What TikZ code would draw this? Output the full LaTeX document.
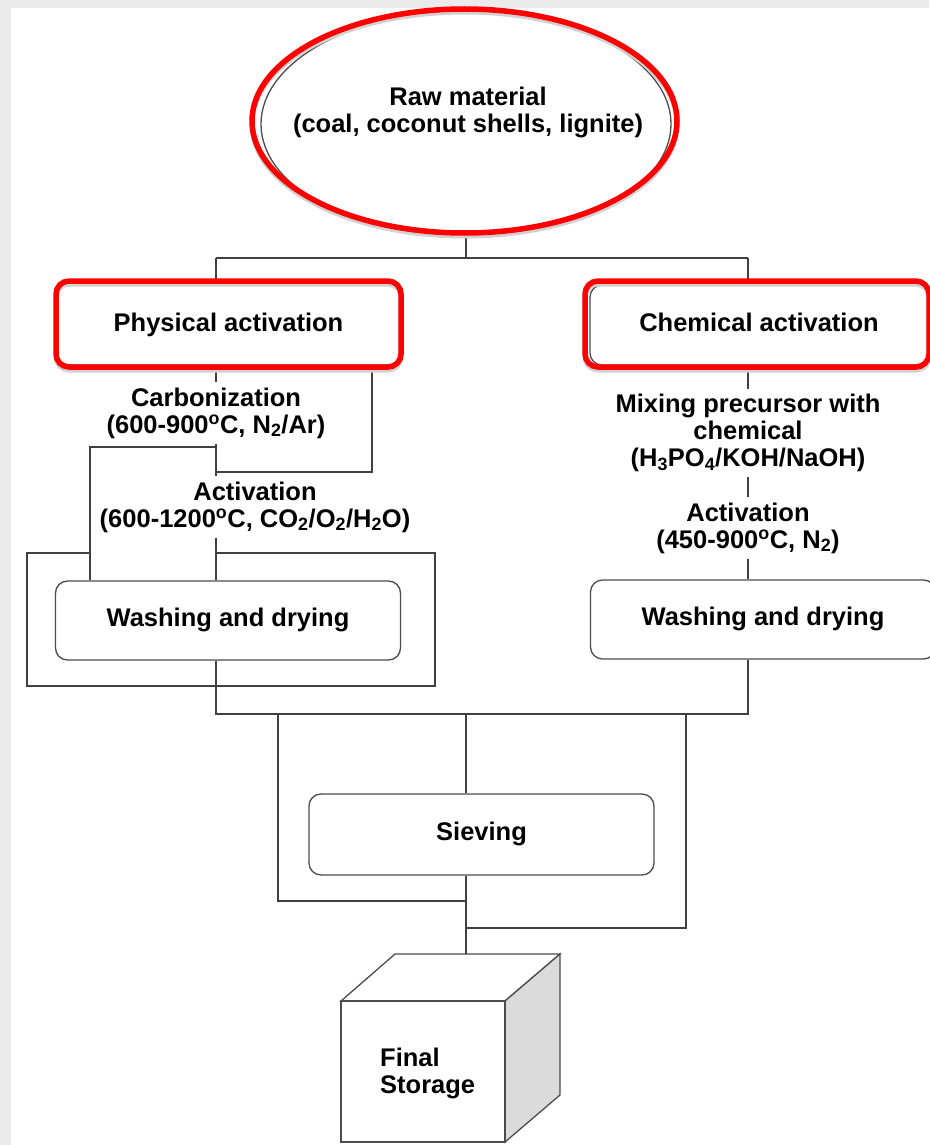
\documentclass[tikz,border=0pt]{standalone}
\usepackage{fontspec}
\setmainfont{Liberation Sans}
\usetikzlibrary{shapes.geometric}

\tikzset{
  wire/.style={draw=black!75, line width=1.2pt},
  plain/.style={draw=black!70, line width=1.3pt, fill=white},
  stepbox/.style={plain, rounded corners=12pt, minimum width=345pt, minimum height=80pt,
    text height=18pt, text depth=5.5pt,
    font=\bfseries\fontsize{25.5}{27}\selectfont},
  lbl/.style={align=center, inner sep=5pt, font=\bfseries\fontsize{25.5}{27}\selectfont},
  redmark/.style={draw=red, line width=5.5pt, rounded corners=13pt,
    preaction={draw=black!18, line width=5pt, transform canvas={yshift=-3pt}}}
}

\begin{document}
\begin{tikzpicture}[x=1pt, y=-1pt]
% Page
\fill[black!8] (0,0) rectangle (929,1145);
\fill[white] (11,8) rectangle (929,1145);
\useasboundingbox (0,0) rectangle (929,1145);

% Raw material
\node[plain, ellipse, minimum width=410pt, minimum height=226pt] (raw) at (466,124) {};
\node[lbl] (rawtxt) at (468,112) {Raw material\\(coal, coconut shells, lignite)};

% Process boxes
\node[stepbox] (phys) at (228.5,325) {Physical activation};
\node[stepbox, minimum width=338pt] (chem) at (759,325) {Chemical activation};
\node[stepbox, minimum height=79pt] (wash1) at (228,620.5) {Washing and drying};
\node[stepbox, minimum height=79pt] (wash2) at (763,619.5) {Washing and drying};
\node[stepbox, minimum height=81pt] (sieve) at (481.5,834.5) {Sieving};

% Conditions
\node[lbl] (carb) at (216,413) {Carbonization\\(600-900\textsuperscript{o}C, N\textsubscript{2}/Ar)};
\node[lbl] (act1) at (255,507) {Activation\\(600-1200\textsuperscript{o}C, CO\textsubscript{2}/O\textsubscript{2}/H\textsubscript{2}O)};
\node[lbl] (mix) at (748,433) {Mixing precursor with\\chemical\\(H\textsubscript{3}PO\textsubscript{4}/KOH/NaOH)};
\node[lbl] (act2) at (748,528) {Activation\\(450-900\textsuperscript{o}C, N\textsubscript{2})};

% Split into the two routes
\coordinate (split) at (466,258);
\coordinate (splitL) at (216,258);
\coordinate (splitR) at (748,258);
\draw[wire] (raw.south) -- (split);
\draw[wire] (splitL) -- (splitR);
\draw[wire] (splitL) -- (splitL |- phys.north);
\draw[wire] (splitR) -- (splitR |- chem.north);

% Physical route, with its bypasses
\coordinate (skipC) at (372,472);
\coordinate (skipA) at (90,447);
\coordinate (frameTL) at (27,553);
\coordinate (frameBR) at (435,686);
\draw[wire] (carb.north |- phys.south) -- (carb.north);
\draw[wire] (carb.south) -- (carb.south |- act1.north);
\draw[wire] (skipC |- phys.south) -- (skipC) -- (carb.south |- skipC);
\draw[wire] (carb.south |- skipA) -- (skipA) -- (skipA |- wash1.north);
\draw[wire] (carb.south |- act1.south) -- (carb.south |- wash1.north);
\draw[wire] (carb.south |- frameTL) -| (frameBR) -| (frameTL) -- (skipA |- frameTL);

% Chemical route
\draw[wire] (splitR |- chem.south) -- (mix.north);
\draw[wire] (mix.south) -- (act2.north);
\draw[wire] (act2.south) -- (act2.south |- wash2.north);

% Join, sieving and storage
\coordinate (joinL) at (216,714);
\coordinate (joinR) at (748,714);
\coordinate (joinC) at (466,714);
\coordinate (sieveL) at (278,901);
\coordinate (sieveR) at (686,928);
\coordinate (cubeTop) at (466,954);
\draw[wire] (carb.south |- wash1.south) -- (joinL) -- (joinR) -- (joinR |- wash2.south);
\draw[wire] (joinC) -- (joinC |- sieve.north);
\draw[wire] (sieveL |- joinL) -- (sieveL) -- (joinC |- sieveL);
\draw[wire] (sieveR |- joinL) -- (sieveR) -- (joinC |- sieveR);
\draw[wire] (joinC |- sieve.south) -- (cubeTop);

% Storage cube
\filldraw[plain] (341,1001) -- (395,954) -- (560,954) -- (505,1001) -- cycle;
\filldraw[plain, fill=black!14] (505,1001) -- (560,954) -- (560,1095) -- (505,1142) -- cycle;
\draw[plain] (341,1001) rectangle (505,1142);
\node[lbl, align=left, anchor=west] (store) at (375,1073) {Final\\Storage};

% Red highlights
\node[redmark, ellipse, minimum width=425pt, minimum height=224pt] (rawmark) at (464.5,121) {};
\node[redmark, minimum width=345pt, minimum height=86pt] (physmark) at (228.5,324) {};
\node[redmark, minimum width=344pt, minimum height=86pt] (chemmark) at (757,324) {};
\end{tikzpicture}
\end{document}
